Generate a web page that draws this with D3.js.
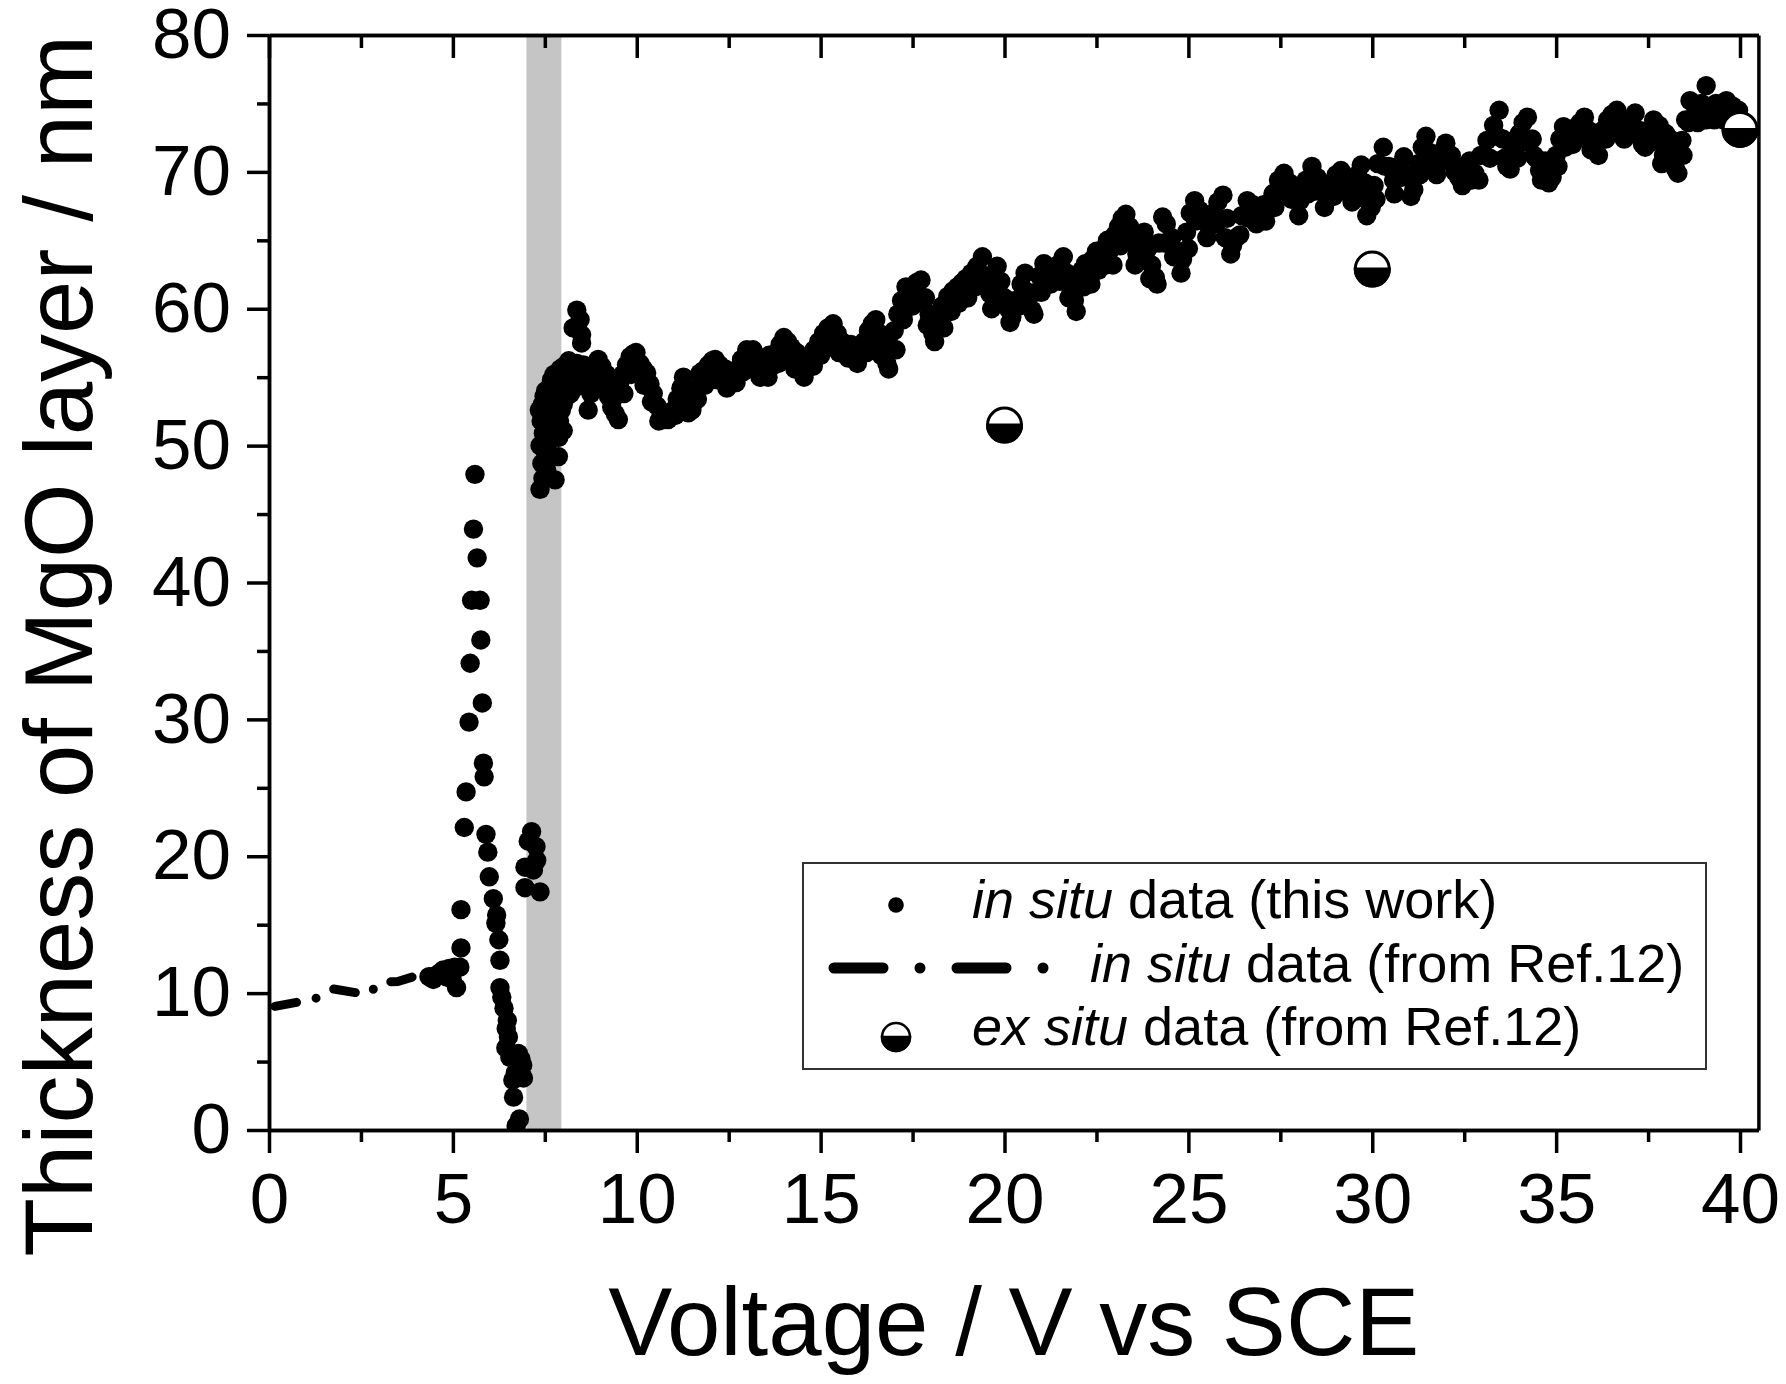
<!DOCTYPE html>
<html>

<head>
  <meta charset="utf-8" />
  <title>Thickness of MgO layer vs voltage</title>
  <script src="https://d3js.org/d3.v7.min.js"></script>
  <style>
    body { margin: 0; background: #fff; }
    text { font-family: "Liberation Sans", Arial, sans-serif; fill: #000; }
  </style>
</head>

<body>
  <script>
    // in situ data (this work): [voltage / V, thickness / nm]
    const inSitu = [
      [4.35, 11.2], [4.47, 11.0], [4.55, 11.3], [4.65, 11.5], [4.74, 11.7], [4.82, 11.2], [4.9, 11.8],
      [4.98, 11.0], [5.05, 11.9], [5.10, 10.4], [5.19, 11.9], [5.22, 13.3], [5.22, 16.1],
      [5.31, 22.1], [5.36, 24.7], [5.44, 29.8], [5.47, 34.1], [5.51, 38.7], [5.60, 47.9], [5.56, 43.9],
      [5.66, 41.8], [5.74, 38.7], [5.76, 35.8], [5.80, 31.2], [5.83, 26.8], [5.85, 25.8], [5.90, 21.6],
      [5.95, 20.3], [5.99, 18.5], [6.10, 16.9], [6.17, 15.1], [6.19, 15.7], [6.25, 13.9], [6.28, 12.4],
      [6.28, 10.4], [6.33, 9.7], [6.39, 8.9], [6.45, 7.4], [6.48, 8.0], [6.51, 6.8], [6.44, 6.0],
      [6.55, 5.3], [6.63, 3.65], [6.65, 2.4], [6.70, 4.2], [6.78, 5.6], [6.85, 5.2], [6.87, 4.0],
      [6.90, 4.75], [6.92, 3.8], [6.81, 0.8], [6.72, 0.3],
      [7.14, 21.8], [7.05, 21.1], [7.26, 20.7], [7.28, 19.7], [6.96, 19.2], [7.19, 19.0], [6.96, 17.7], [7.37, 17.4],
      [7.37, 46.8], [7.42, 48.7], [7.37, 50.0], [7.46, 50.9], [7.4, 51.8], [7.43, 53.0], [7.48, 53.6],
      [7.52, 54.0], [7.55, 52.4], [7.6, 51.5], [7.5, 49.6], [7.65, 50.4], [7.7, 52.6], [7.78, 47.5],
      [7.87, 49.2], [7.82, 53.1], [7.78, 53.9], [7.72, 53.2], [7.9, 51.8], [8.0, 51.1], [8.0, 53.0],
      [8.09, 53.6], [8.1, 54.6], [8.18, 55.3], [8.25, 56.0], [8.37, 56.0], [8.45, 55.4], [8.55, 55.9],
      [8.37, 59.9], [8.46, 59.2], [8.27, 58.6], [8.50, 58.1], [8.50, 57.5], [8.6, 55.5], [8.64, 54.3],
      [8.68, 52.6], [8.75, 53.8], [8.85, 55.4], [8.95, 56.3], [9.05, 55.8], [9.18, 55.2], [9.23, 53.6],
      [9.32, 52.8], [9.42, 52.3], [9.50, 51.9], [9.54, 54.6], [9.62, 55.2], [9.72, 55.9], [9.82, 56.5],
      [9.91, 56.7], [9.98, 56.8], [10.09, 56.0], [10.18, 55.6], [10.27, 55.3], [10.36, 54.5], [10.45, 53.8],
      [10.55, 52.9], [10.66, 52.1], [10.72, 51.9], [10.8, 52.3], [10.9, 52.4], [11.0, 52.6], [11.1, 53.4],
      [11.2, 54.2], [11.27, 55.0], [11.35, 53.9], [11.45, 53.0], [11.5, 52.6], [11.54, 53.1], [11.62, 54.2],
      [11.72, 55.3], [11.82, 55.5], [11.95, 55.9], [12.05, 56.2], [12.13, 56.3], [12.25, 55.9], [12.4, 55.6],
      [12.52, 55.2], [12.64, 54.8], [12.75, 55.6], [12.85, 56.3], [12.99, 57.0], [13.08, 56.8], [13.16, 57.0],
      [13.28, 56.2], [13.4, 55.6], [13.5, 55.3], [13.57, 55.0], [13.68, 55.8], [13.8, 56.8], [13.9, 57.4],
      [14.0, 57.9], [14.1, 57.6], [14.2, 57.2], [14.35, 56.8], [14.5, 56.2], [14.63, 55.7], [14.72, 56.3],
      [14.82, 57.0], [14.95, 57.6], [15.08, 58.2], [15.2, 58.6], [15.34, 58.9], [15.45, 58.2], [15.58, 57.6],
      [15.7, 57.3], [15.82, 57.4], [15.95, 57.2], [16.07, 56.8], [16.18, 57.6], [16.3, 58.4], [16.4, 58.9],
      [16.5, 59.2], [16.6, 58.2], [16.7, 57.2], [16.8, 56.0], [16.9, 57.2], [17.0, 58.4], [17.1, 59.6],
      [17.2, 60.6], [17.32, 61.6], [17.45, 61.4], [17.6, 61.9], [17.73, 62.1], [17.85, 60.8], [17.95, 59.6],
      [18.05, 58.2], [18.15, 59.2], [18.3, 60.2], [18.46, 60.9], [18.6, 61.3], [18.72, 61.6], [18.84, 61.9],
      [18.95, 62.2], [19.1, 62.6], [19.25, 63.1], [19.4, 63.8], [19.5, 62.4], [19.6, 61.1], [19.7, 62.2],
      [19.8, 63.1], [19.9, 62.0], [20.0, 60.8], [20.1, 60.0], [20.2, 59.4], [20.3, 60.6], [20.45, 61.8],
      [20.56, 62.6], [20.65, 61.2], [20.75, 59.9], [20.85, 61.2], [20.95, 62.4], [21.07, 63.3], [21.2, 63.0],
      [21.35, 62.6], [21.45, 63.2], [21.6, 63.8], [21.7, 62.6], [21.8, 61.5], [21.9, 60.6], [22.0, 61.8],
      [22.1, 62.8], [22.2, 63.3], [22.3, 62.6], [22.4, 63.6], [22.5, 64.2], [22.6, 63.4], [22.7, 64.4],
      [22.8, 65.0], [22.9, 64.4], [23.0, 65.4], [23.1, 66.0], [23.2, 66.6], [23.3, 66.9], [23.4, 66.0],
      [23.5, 64.8], [23.6, 64.0], [23.7, 65.2], [23.8, 65.6], [23.9, 64.4], [24.0, 63.2], [24.1, 62.3],
      [24.2, 64.8], [24.3, 66.7], [24.4, 66.2], [24.55, 65.2], [24.7, 64.2], [24.84, 63.6], [24.95, 65.6],
      [25.05, 67.0], [25.17, 67.9], [25.3, 67.2], [25.45, 66.4], [25.56, 66.0], [25.68, 67.0], [25.8, 67.8],
      [25.94, 68.3], [26.05, 66.6], [26.2, 64.6], [26.3, 65.2], [26.45, 66.8], [26.6, 67.9], [26.75, 67.6],
      [26.9, 67.3], [27.05, 67.6], [27.16, 67.4], [27.3, 68.4], [27.45, 69.4], [27.6, 69.9], [27.75, 69.2],
      [27.9, 68.4], [28.04, 67.9], [28.2, 69.4], [28.36, 70.4], [28.5, 69.6], [28.62, 68.8], [28.76, 68.2],
      [28.9, 69.2], [29.02, 69.8], [29.15, 70.1], [29.3, 69.4], [29.48, 68.9], [29.6, 69.8], [29.7, 70.5],
      [29.8, 69.2], [29.9, 67.8], [29.97, 67.4], [30.05, 69.0], [30.15, 70.6], [30.3, 71.8], [30.45, 70.4],
      [30.58, 69.4], [30.7, 70.4], [30.86, 71.1], [31.0, 69.8], [31.13, 68.7], [31.25, 70.6], [31.36, 71.8],
      [31.46, 72.6], [31.57, 71.4], [31.68, 70.6], [31.85, 71.4], [32.0, 72.1], [32.15, 71.2], [32.35, 69.6],
      [32.5, 70.4], [32.65, 70.8], [32.79, 69.9], [32.95, 71.2], [33.12, 72.3], [33.3, 73.4], [33.45, 74.5],
      [33.55, 72.4], [33.66, 70.4], [33.8, 71.6], [33.9, 72.4], [34.0, 72.8], [34.1, 73.6], [34.22, 74.0],
      [34.35, 72.4], [34.45, 71.0], [34.55, 70.1], [34.7, 70.8], [34.89, 69.6], [35.0, 71.2], [35.1, 72.4],
      [35.2, 73.3], [35.35, 72.8], [35.5, 73.2], [35.65, 73.6], [35.77, 74.0], [35.9, 73.0], [36.0, 72.4],
      [36.1, 72.1], [36.25, 73.0], [36.4, 73.8], [36.52, 74.2], [36.65, 74.5], [36.8, 73.6], [36.95, 73.2],
      [37.05, 73.8], [37.15, 74.3], [37.3, 73.0], [37.42, 71.8], [37.55, 73.0], [37.65, 73.8], [37.8, 73.4],
      [37.87, 70.6], [37.98, 72.8], [38.1, 72.4], [38.2, 71.2], [38.31, 69.9], [38.42, 72.3], [38.52, 73.8],
      [38.64, 75.2], [38.8, 74.6], [38.95, 75.0], [39.08, 76.3], [39.08, 73.8], [39.2, 74.6], [39.35, 75.0],
      [39.5, 74.8], [39.63, 75.2], [39.8, 74.8], [39.96, 74.5]
    ];

    const inSituBand = [
      [7.35, 52.6], [7.45, 52.2], [7.58, 53.4], [7.62, 54.2], [7.68, 54.8], [7.75, 55.2], [7.85, 54.6],
      [7.92, 55.6], [8.02, 55.8], [8.15, 56.2], [8.3, 55.4], [8.4, 54.8], [8.2, 53.8], [8.3, 54.2],
      [7.95, 52.6], [7.88, 50.6], [7.6, 49.4], [7.55, 48.2], [7.45, 47.6],
      [8.8, 54.6], [9.1, 54.4], [9.35, 53.4], [9.65, 53.8], [9.85, 55.2], [10.0, 55.4], [10.2, 54.4],
      [10.4, 53.2], [10.6, 51.8], [10.85, 51.9], [11.05, 52.2], [11.25, 53.6], [11.4, 52.4], [11.65, 53.4],
      [11.85, 54.4], [12.0, 55.0], [12.2, 54.8], [12.45, 54.2], [12.7, 54.6], [12.9, 55.4], [13.1, 55.8],
      [13.35, 55.0], [13.6, 56.6], [13.85, 56.0], [14.05, 56.4], [14.3, 55.6], [14.55, 55.0], [14.8, 55.8],
      [15.0, 56.6], [15.25, 57.2], [15.5, 56.8], [15.75, 56.4], [16.0, 56.0], [16.25, 56.8], [16.45, 57.6],
      [16.65, 56.6], [16.85, 55.6], [17.05, 57.0], [17.25, 59.2], [17.5, 60.2], [17.7, 60.6], [17.9, 58.8],
      [18.1, 57.6], [18.35, 58.6], [18.55, 59.8], [18.75, 60.4], [19.0, 60.8], [19.2, 61.6], [19.45, 62.2],
      [19.65, 60.0], [19.95, 60.6], [20.15, 59.0], [20.4, 60.2], [20.6, 61.0], [20.8, 59.6], [21.0, 61.2],
      [21.25, 61.8], [21.5, 62.0], [21.75, 60.8], [21.95, 59.8], [22.15, 61.6], [22.35, 61.8], [22.55, 62.8],
      [22.75, 63.2], [22.95, 63.2], [23.15, 64.6], [23.35, 65.4], [23.55, 63.2], [23.75, 63.8], [23.95, 62.2],
      [24.15, 61.8], [24.35, 64.8], [24.6, 63.8], [24.8, 62.6], [25.0, 64.4], [25.2, 66.4], [25.5, 65.2],
      [25.75, 66.2], [26.0, 65.2], [26.15, 64.0], [26.4, 65.4], [26.65, 66.6], [26.85, 66.2], [27.1, 66.4],
      [27.35, 67.4], [27.55, 68.6], [27.8, 68.0], [28.0, 66.8], [28.25, 68.4], [28.45, 68.6], [28.7, 67.4],
      [28.95, 68.2], [29.2, 68.6], [29.45, 67.8], [29.65, 68.6], [29.85, 66.8], [30.1, 68.0], [30.35, 70.4],
      [30.6, 68.4], [30.8, 69.6], [31.05, 68.2], [31.3, 69.8], [31.5, 71.0], [31.75, 69.8], [31.95, 70.8],
      [32.25, 70.0], [32.45, 69.0], [32.7, 69.4], [32.9, 69.4], [33.2, 71.0], [33.4, 72.6], [33.6, 71.0],
      [33.75, 70.2], [33.95, 71.0], [34.15, 72.2], [34.4, 71.2], [34.6, 69.4], [34.8, 69.2], [35.05, 70.4],
      [35.25, 71.8], [35.45, 72.0], [35.7, 72.6], [35.95, 71.6], [36.15, 71.2], [36.35, 72.4], [36.6, 73.2],
      [36.85, 72.4], [37.1, 72.8], [37.35, 72.0], [37.6, 72.2], [37.75, 72.4], [37.92, 71.2], [38.05, 71.4],
      [38.25, 70.2], [38.45, 71.2], [38.6, 73.6], [38.85, 73.6], [39.0, 74.0], [39.3, 73.8], [39.55, 73.8],
      [39.75, 73.6], [39.9, 73.4]
    ];

    // in situ data from Ref.12 (dash-dot curve)
    const refCurve = [
      [0, 8.95], [0.9, 9.4], [1.39, 9.7], [1.75, 10.3], [2.66, 9.9], [3.07, 10.8],
      [3.5, 10.85], [4.3, 11.5], [4.8, 11.8]
    ];

    // ex situ data from Ref.12
    const exSitu = [[20, 51.5], [30, 62.9], [40, 73.1]];

    // shaded voltage window
    const band = [7.0, 7.95];

    const xTicks = [0, 5, 10, 15, 20, 25, 30, 35, 40];
    const xMinor = [2.5, 7.5, 12.5, 17.5, 22.5, 27.5, 32.5, 37.5];
    const yTicks = [0, 10, 20, 30, 40, 50, 60, 70, 80];
    const yMinor = [5, 15, 25, 35, 45, 55, 65, 75];

    const legendItems = [
      { it: "in situ", rest: " data (this work)" },
      { it: "in situ", rest: " data (from Ref.12)" },
      { it: "ex situ", rest: " data (from Ref.12)" }
    ];

    let width = 1786;
    let height = 1384;
    let plotL = 269, plotR = 1758.4, plotT = 35, plotB = 1130;

    let svg = d3.select("body")
      .append("svg")
      .attr("width", width)
      .attr("height", height)
      .style("display", "block")
      .style("background", "#fff");

    let scaleX = d3.scaleLinear().domain([0, 40.5]).range([plotL, plotR]);
    let scaleY = d3.scaleLinear().domain([0, 80]).range([plotB, plotT]);

    svg.append("defs").append("clipPath")
      .attr("id", "plotClip")
      .append("rect")
      .attr("x", plotL)
      .attr("y", plotT)
      .attr("width", plotR - plotL)
      .attr("height", plotB - plotT);

    let plot = svg.append("g").attr("clip-path", "url(#plotClip)");

    // grey band
    plot.append("rect")
      .attr("x", scaleX(band[0]))
      .attr("y", plotT)
      .attr("width", scaleX(band[1]) - scaleX(band[0]))
      .attr("height", plotB - plotT)
      .attr("fill", "#c5c5c5");

    // dash-dot line (Ref.12)
    let lineF = d3.line()
      .x(d => scaleX(d[0]))
      .y(d => scaleY(d[1]));

    plot.append("path")
      .datum(refCurve)
      .attr("d", lineF)
      .attr("fill", "none")
      .attr("stroke", "#000")
      .attr("stroke-width", 9)
      .attr("stroke-linecap", "round")
      .attr("stroke-dasharray", "22,20,0,20")
      .attr("stroke-dashoffset", -6);

    // in situ points
    plot.selectAll("circle.insitu")
      .data(inSitu.concat(inSituBand))
      .enter()
      .append("circle")
      .attr("class", "insitu")
      .attr("cx", d => scaleX(d[0]))
      .attr("cy", d => scaleY(d[1]))
      .attr("r", 9.7)
      .attr("fill", "#000");

    // half filled markers
    function halfMarker(g, cx, cy, r, sw) {
      g.append("circle")
        .attr("cx", cx).attr("cy", cy).attr("r", r)
        .attr("fill", "#fff")
        .attr("stroke", "#000")
        .attr("stroke-width", sw);
      g.append("path")
        .attr("d", `M${cx - r},${cy} A${r},${r} 0 0 0 ${cx + r},${cy} Z`)
        .attr("fill", "#000")
        .attr("stroke", "#000")
        .attr("stroke-width", sw);
    }

    let exG = svg.append("g");
    exSitu.forEach(d => halfMarker(exG, scaleX(d[0]), scaleY(d[1]), 17, 3));

    // axes
    let axisStyle = function (g) {
      g.selectAll("path.domain").attr("stroke", "#000").attr("stroke-width", 3.5);
      g.selectAll(".tick line").attr("stroke", "#000").attr("stroke-width", 3.5);
      g.selectAll(".tick text")
        .style("font-family", '"Liberation Sans", Arial, sans-serif')
        .style("font-size", "71px")
        .attr("fill", "#000");
    };

    svg.append("g")
      .attr("transform", `translate(0, ${plotB})`)
      .call(d3.axisBottom(scaleX).tickValues(xMinor).tickSize(12).tickSizeOuter(0).tickFormat(""))
      .call(axisStyle);
    svg.append("g")
      .attr("transform", `translate(0, ${plotB})`)
      .call(d3.axisBottom(scaleX).tickValues(xTicks).tickSize(23).tickSizeOuter(0).tickPadding(20).tickFormat(d3.format("d")))
      .call(axisStyle);

    svg.append("g")
      .attr("transform", `translate(0, ${plotT})`)
      .call(d3.axisTop(scaleX).tickValues(xMinor).tickSize(-13).tickSizeOuter(0).tickFormat(""))
      .call(axisStyle);
    svg.append("g")
      .attr("transform", `translate(0, ${plotT})`)
      .call(d3.axisTop(scaleX).tickValues(xTicks).tickSize(-23).tickSizeOuter(0).tickFormat(""))
      .call(axisStyle);

    svg.append("g")
      .attr("transform", `translate(${plotL}, 0)`)
      .call(d3.axisLeft(scaleY).tickValues(yMinor).tickSize(12).tickSizeOuter(0).tickFormat(""))
      .call(axisStyle);
    svg.append("g")
      .attr("transform", `translate(${plotL}, 0)`)
      .call(d3.axisLeft(scaleY).tickValues(yTicks).tickSize(22).tickSizeOuter(0).tickPadding(16).tickFormat(d3.format("d")))
      .call(axisStyle);

    svg.append("g")
      .attr("transform", `translate(${plotR}, 0)`)
      .call(d3.axisRight(scaleY).tickValues([]).tickSizeOuter(0))
      .call(axisStyle);

    // axis titles
    svg.append("text")
      .attr("x", (plotL + plotR) / 2)
      .attr("y", 1355)
      .attr("text-anchor", "middle")
      .style("font-size", "96px")
      .text("Voltage / V vs SCE");

    svg.append("text")
      .attr("transform", "translate(92, 646) rotate(-90)")
      .attr("text-anchor", "middle")
      .style("font-size", "96px")
      .text("Thickness of MgO layer / nm");

    // legend
    let legend = svg.append("g");
    legend.append("rect")
      .attr("x", 803).attr("y", 863)
      .attr("width", 903).attr("height", 206)
      .attr("fill", "#fff")
      .attr("stroke", "#333")
      .attr("stroke-width", 2);

    legend.append("circle")
      .attr("cx", 896).attr("cy", 905).attr("r", 7.8)
      .attr("fill", "#000");

    legend.append("line")
      .attr("x1", 834).attr("x2", 1046)
      .attr("y1", 968).attr("y2", 968)
      .attr("stroke", "#000")
      .attr("stroke-width", 11)
      .attr("stroke-linecap", "round")
      .attr("stroke-dasharray", "49,37,0,37");

    halfMarker(legend, 896, 1037, 14, 2.5);

    let textX = [972, 1090, 972];
    let textY = [918, 982, 1045];
    legendItems.forEach((item, i) => {
      let t = legend.append("text")
        .attr("x", textX[i])
        .attr("y", textY[i])
        .style("font-size", "54px");
      t.append("tspan").style("font-style", "italic").text(item.it);
      t.append("tspan").text(item.rest);
    });
  </script>
</body>

</html>
